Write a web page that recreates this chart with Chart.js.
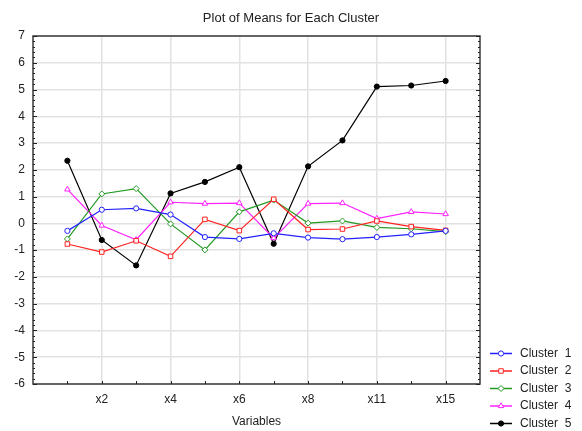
<!DOCTYPE html>
<html>
<head>
<meta charset="utf-8">
<script src="https://cdn.jsdelivr.net/npm/chart.js@4/dist/chart.umd.min.js"></script>
<style>
  html, body { margin: 0; padding: 0; background: #fff; }
  #wrap { width: 582px; height: 431px; }
</style>
</head>
<body>
<div id="wrap"><canvas id="c" width="582" height="431"></canvas></div>
<script>
// Variables along the horizontal axis (every second one is labelled)
const variables = ['x1', 'x2', 'x3', 'x4', 'x5', 'x6', 'x7', 'x8', 'x10', 'x11', 'x13', 'x15'];

// Cluster means per variable
const cluster1 = [-0.28, 0.51, 0.56, 0.33, -0.51, -0.58, -0.37, -0.53, -0.59, -0.51, -0.41, -0.28];
const cluster2 = [-0.77, -1.07, -0.65, -1.23, 0.15, -0.27, 0.90, -0.23, -0.21, 0.09, -0.12, -0.26];
const cluster3 = [-0.58, 1.10, 1.30, -0.02, -0.99, 0.43, 0.87, 0.01, 0.09, -0.15, -0.20, -0.31];
const cluster4 = [1.27, -0.08, -0.61, 0.79, 0.74, 0.76, -0.55, 0.74, 0.76, 0.18, 0.43, 0.35];
const cluster5 = [2.34, -0.62, -1.57, 1.12, 1.55, 2.10, -0.76, 2.13, 3.10, 5.11, 5.15, 5.32];

const seriesNames = ['Cluster  1', 'Cluster  2', 'Cluster  3', 'Cluster  4', 'Cluster  5'];

// Value-axis ticks
const yTicks = [-6, -5, -4, -3, -2, -1, 0, 1, 2, 3, 4, 5, 6, 7];

const styles = [
  { color: '#2222ff', point: 'circle',   radius: 2.6, fill: '#ffffff' },
  { color: '#ff2222', point: 'rect',     radius: 3.2, fill: '#ffffff' },
  { color: '#229a22', point: 'rectRot',  radius: 3,   fill: '#ffffff' },
  { color: '#ff22ff', point: 'triangle', radius: 3.2, fill: '#ffffff' },
  { color: '#000000', point: 'circle',   radius: 2.6, fill: '#000000' }
];

const allSeries = [cluster1, cluster2, cluster3, cluster4, cluster5];

const datasets = allSeries.map((vals, i) => ({
  label: seriesNames[i],
  data: vals.map((v, j) => ({ x: j + 1, y: v })),
  borderColor: styles[i].color,
  backgroundColor: styles[i].fill,
  borderWidth: 1.2,
  pointStyle: styles[i].point,
  pointRadius: styles[i].radius,
  pointBorderColor: styles[i].color,
  pointBackgroundColor: styles[i].fill,
  pointBorderWidth: 1,
  tension: 0
}));

const FONT = '"Liberation Sans", Arial, sans-serif';

// Frame, inward tick marks, titles and the legend
const decorations = {
  id: 'decorations',
  afterDatasetsDraw(chart) {
    const ctx = chart.ctx;
    const a = chart.chartArea;
    const xs = chart.scales.x, ys = chart.scales.y;
    ctx.save();
    // frame
    ctx.strokeStyle = '#3a3a3a';
    ctx.lineWidth = 1.5;
    ctx.strokeRect(a.left, a.top, a.right - a.left, a.bottom - a.top);
    ctx.lineWidth = 1;
    ctx.strokeStyle = '#222';
    ctx.beginPath();
    // bottom ticks at every variable
    for (let i = 1; i <= variables.length; i++) {
      const px = Math.round(xs.getPixelForValue(i)) + 0.5;
      ctx.moveTo(px, a.bottom); ctx.lineTo(px, a.bottom - 3);
    }
    // left and right ticks, major + minor
    for (let v = yTicks[0]; v <= yTicks[yTicks.length - 1] + 1e-9; v += 0.2) {
      const py = Math.round(ys.getPixelForValue(v)) + 0.5;
      const major = Math.abs(v - Math.round(v)) < 1e-6;
      const len = major ? 4 : 2;
      ctx.moveTo(a.left, py); ctx.lineTo(a.left + len, py);
      ctx.moveTo(a.right, py); ctx.lineTo(a.right - len, py);
    }
    ctx.stroke();

    // titles
    ctx.fillStyle = '#222';
    ctx.font = '13px ' + FONT;
    ctx.textAlign = 'center';
    ctx.textBaseline = 'middle';
    ctx.fillText('Plot of Means for Each Cluster', 291, 18);
    ctx.font = '12px ' + FONT;
    ctx.fillText('Variables', (a.left + a.right) / 2, 422);

    // legend
    const rowY = [353, 370.5, 388, 405.5, 423];
    ctx.textAlign = 'left';
    ctx.font = '12px ' + FONT;
    datasets.forEach((ds, i) => {
      const y = rowY[i];
      ctx.strokeStyle = ds.borderColor;
      ctx.lineWidth = 1.5;
      ctx.beginPath();
      ctx.moveTo(490, y + 0.5); ctx.lineTo(512, y + 0.5);
      ctx.stroke();
      ctx.lineWidth = 1;
      ctx.fillStyle = ds.pointBackgroundColor;
      Chart.helpers.drawPoint(ctx, {
        pointStyle: ds.pointStyle,
        radius: ds.pointRadius,
        rotation: 0,
        borderWidth: 1
      }, 501, y + 0.5);
      ctx.fillStyle = '#222';
      ctx.fillText(ds.label, 520, y + 0.5);
    });
    ctx.restore();
  }
};

new Chart(document.getElementById('c'), {
  type: 'line',
  data: { datasets },
  plugins: [decorations],
  options: {
    responsive: false,
    animation: false,
    events: [],
    layout: { padding: { top: 36, right: 102, left: 0, bottom: 0 } },
    plugins: { legend: { display: false }, title: { display: false }, tooltip: { enabled: false } },
    scales: {
      x: {
        type: 'linear',
        min: 0,
        max: variables.length + 1,
        afterFit(scale) { scale.height = 47; },
        afterBuildTicks(scale) {
          scale.ticks = variables.map((_, i) => ({ value: i + 1 }));
        },
        ticks: {
          autoSkip: false,
          maxRotation: 0,
          padding: 8,
          color: '#222',
          font: { family: FONT, size: 12 },
          callback(value) {
            const idx = value - 1;
            return (value % 2 === 0) ? variables[idx] : '';
          }
        },
        grid: {
          drawTicks: false,
          color(ctx) {
            const v = ctx.tick && ctx.tick.value;
            return (v && v % 2 === 0) ? '#e2e2e2' : 'rgba(0,0,0,0)';
          },
          lineWidth: 1.5
        },
        border: { display: false }
      },
      y: {
        min: yTicks[0],
        max: yTicks[yTicks.length - 1],
        afterFit(scale) { scale.width = 33; },
        afterBuildTicks(scale) {
          scale.ticks = yTicks.map(v => ({ value: v }));
        },
        ticks: {
          padding: 8,
          color: '#222',
          font: { family: FONT, size: 12 }
        },
        grid: { drawTicks: false, color: '#e2e2e2', lineWidth: 1.5 },
        border: { display: false }
      }
    }
  }
});
</script>
</body>
</html>
